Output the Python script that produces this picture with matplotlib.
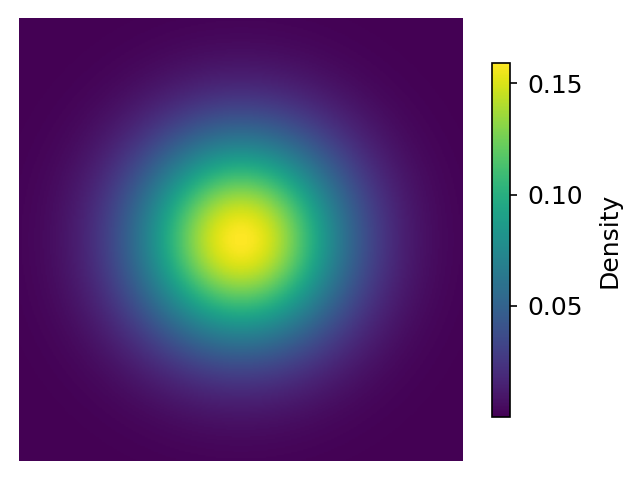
import numpy as np
import matplotlib

matplotlib.use("Agg")
import matplotlib.pyplot as plt

# standard bivariate normal on a square grid
mean = [0.0, 0.0]
sigma = [1.0, 1.0]
x_bound = [-3, 3]
y_bound = [-3, 3]
n_points = 300
cbar_ticks = [0.05, 0.10, 0.15]

x = np.linspace(*x_bound, n_points)
y = np.linspace(*y_bound, n_points)
X, Y = np.meshgrid(x, y)
Z = np.exp(-0.5 * (((X - mean[0]) / sigma[0]) ** 2 + ((Y - mean[1]) / sigma[1]) ** 2)) / (2 * np.pi * sigma[0] * sigma[1])

DPI = 150
fig = plt.figure(figsize=(644 / DPI, 481 / DPI), dpi=DPI)
ax = fig.add_axes([19 / 644, 1 - 461 / 481, 444 / 644, 443 / 481])
im = ax.imshow(Z, cmap="viridis", origin="lower",
               extent=[x_bound[0], x_bound[1], y_bound[0], y_bound[1]],
               aspect="auto")
ax.axis("off")

cax = fig.add_axes([492 / 644, 1 - 417 / 481, 18 / 644, 354 / 481])
cb = fig.colorbar(im, cax=cax, ticks=cbar_ticks)
cb.set_label("Density", fontsize=12, labelpad=7)
cb.ax.tick_params(labelsize=12, pad=5)

fig.savefig("out.png", dpi=DPI)
plt.close(fig)
